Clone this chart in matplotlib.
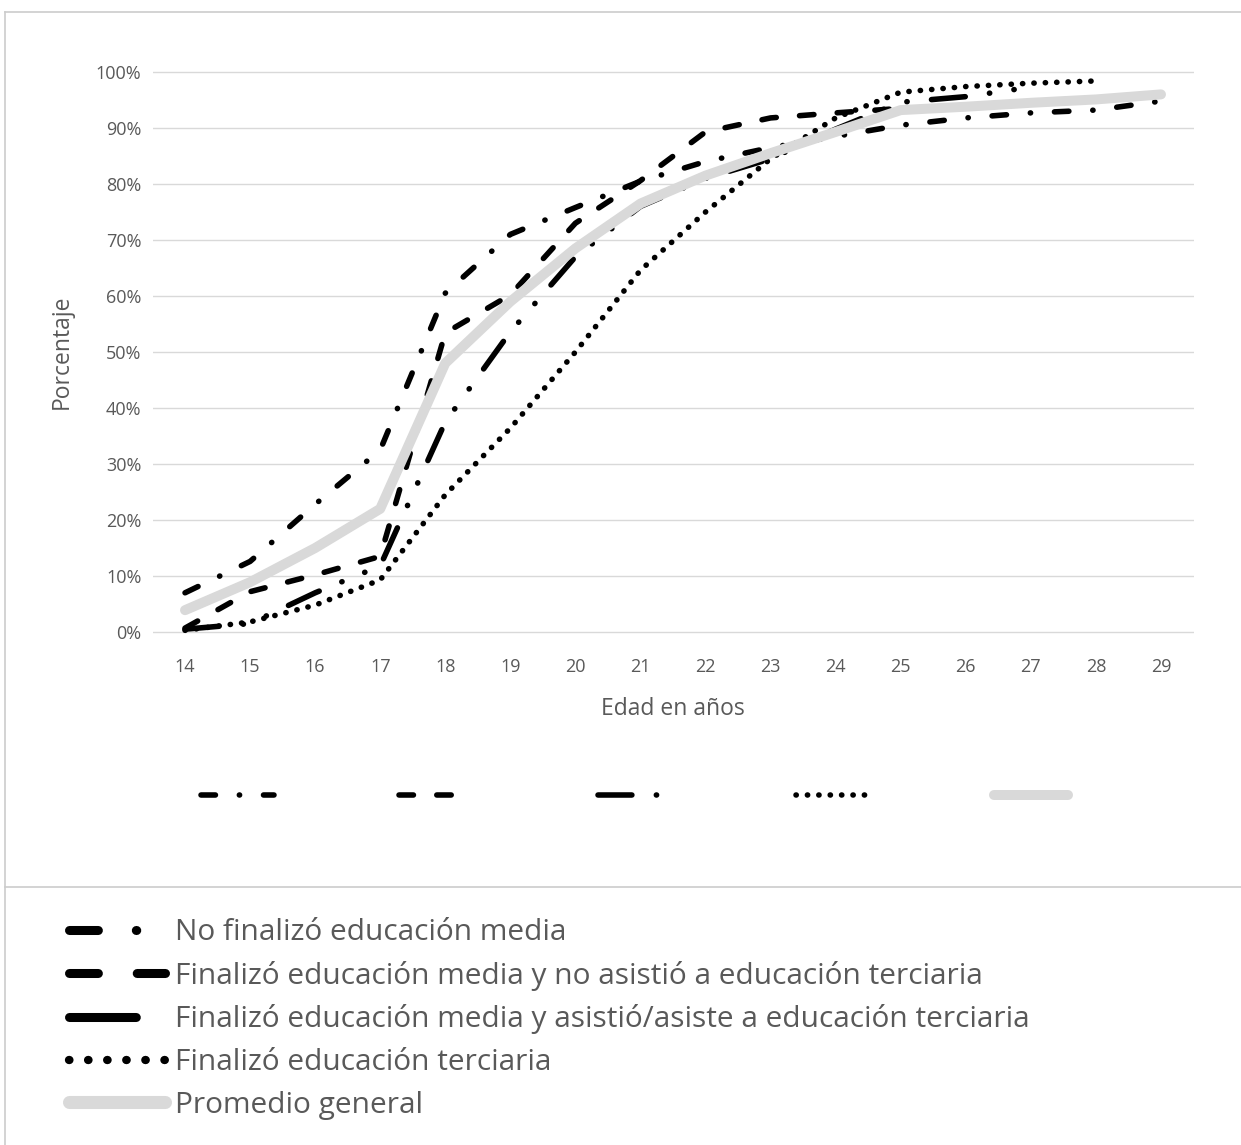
import numpy as np
import matplotlib
matplotlib.use('Agg')
import matplotlib.pyplot as plt
from matplotlib.lines import Line2D
from matplotlib.ticker import FuncFormatter

nan = np.nan

# edades (eje x)
ages = list(range(14, 30))

# porcentajes
no_media = [7.0, 12.6, 22.8, 32.5, 60.5, 71.0, 75.8, 80.5, 84.0, 86.5,
            88.5, 90.5, 91.8, 92.7, 93.2, 94.8]
media_no_terciaria = [0.7, 7.2, 10.2, 13.5, 53.4, 60.2, 73.0, 80.6, 89.3, 91.8,
                      92.7, 93.5, nan, nan, nan, nan]
media_asiste_terciaria = [0.5, 1.5, 7.0, 11.8, 37.5, 53.6, 67.0, 76.0, 81.0, 84.5,
                          89.8, 94.6, 95.6, 97.3, nan, nan]
terciaria = [0.3, 1.8, 4.8, 9.3, 24.5, 36.4, 50.0, 64.6, 75.0, 84.5,
             91.8, 96.4, 97.4, 98.0, 98.4, nan]
promedio = [3.9, 8.9, 15.0, 22.0, 48.0, 59.0, 68.5, 76.5, 81.5, 85.5,
            89.3, 93.2, 93.8, 94.5, 95.1, 96.0]

labels = [
    'No finalizó educación media',
    'Finalizó educación media y no asistió a educación terciaria',
    'Finalizó educación media y asistió/asiste a educación terciaria',
    'Finalizó educación terciaria',
    'Promedio general',
]

W, H = 1241, 1145
GREY_TXT = '#595959'
plt.rcParams['font.family'] = ['Open Sans', 'DejaVu Sans']


def fx(x):
    return x / W


def fy(y):
    return 1 - y / H


fig = plt.figure(figsize=(W / 100, H / 100), dpi=100)

# area del grafico: 0% en y=632px, 100% en y=72px
ppu = (632 - 72) / 100
ax = fig.add_axes([fx(152.5), fy(632 + 0.5 * ppu), fx(1193.5) - fx(152.5),
                   (560 + ppu) / H])
ax.set_xlim(13.5, 29.5)
ax.set_ylim(-0.5, 100.5)

for s in ax.spines.values():
    s.set_visible(False)
ax.set_yticks(range(0, 101, 10))
ax.set_xticks(ages)
ax.yaxis.set_major_formatter(FuncFormatter(lambda v, p: f'{int(v)}%'))
ax.grid(axis='y', color='#d9d9d9', lw=1.0)
ax.set_axisbelow(True)
ax.tick_params(axis='both', length=0, labelsize=13, labelcolor=GREY_TXT)
ax.tick_params(axis='y', pad=8)
ax.tick_params(axis='x', pad=17)
ax.set_xlabel('Edad en años', fontsize=16.5, color=GREY_TXT, labelpad=15)
ax.set_ylabel('Porcentaje', fontsize=16.5, color=GREY_TXT, labelpad=16)

black_styles = [
    (no_media, (2.6, 4.3, 0.05, 4.3)),
    (media_no_terciaria, (2.6, 4.2)),
    (media_asiste_terciaria, (6.1, 4.4, 0.05, 4.4, 0.05, 4.4)),
    (terciaria, (0.05, 2.0)),
]

lines = []
for values, dashes in black_styles:
    ln, = ax.plot(ages, values, color='black', lw=4, dashes=dashes,
                  dash_capstyle='round', dash_joinstyle='round', zorder=3)
    lines.append(ln)
ln, = ax.plot(ages, promedio, color='#d9d9d9', lw=7.2,
              solid_capstyle='round', solid_joinstyle='round', zorder=4)
lines.append(ln)

# fila de leyenda dentro del grafico (sin texto visible)
fig.legend(lines, [''] * 5, loc='center left',
           bbox_to_anchor=(fx(201), fy(797)), ncol=5, frameon=False,
           fontsize=12, handlelength=4.4, handletextpad=0.5,
           columnspacing=7.0, borderpad=0, borderaxespad=0)

# leyenda inferior
big = [
    Line2D([], [], color='black', lw=6.5, dashes=(3.2, 4.2, 0.05, 6),
           dash_capstyle='round'),
    Line2D([], [], color='black', lw=6.5, dashes=(3.2, 4.3),
           dash_capstyle='round'),
    Line2D([], [], color='black', lw=6.5, dashes=(7.4, 5),
           dash_capstyle='round'),
    Line2D([], [], color='black', lw=6.0, dashes=(0.05, 2.24),
           dash_capstyle='round'),
    Line2D([], [], color='#d9d9d9', lw=9.4, solid_capstyle='round'),
]
fig.legend(big, labels, loc='upper left', bbox_to_anchor=(fx(69), fy(918)),
           frameon=False, fontsize=21.5, labelcolor=GREY_TXT,
           handlelength=3.2, handletextpad=0.35, labelspacing=0.46,
           borderpad=0, borderaxespad=0)

# marco y separador
frame_kw = dict(color='#cccccc', lw=1.2, transform=fig.transFigure)
fig.add_artist(Line2D([fx(5), fx(W)], [fy(12), fy(12)], **frame_kw))
fig.add_artist(Line2D([fx(5), fx(5)], [fy(12), fy(H)], **frame_kw))
fig.add_artist(Line2D([fx(5), fx(W)], [fy(887), fy(887)], **frame_kw))

fig.savefig('out.png', dpi=100)
